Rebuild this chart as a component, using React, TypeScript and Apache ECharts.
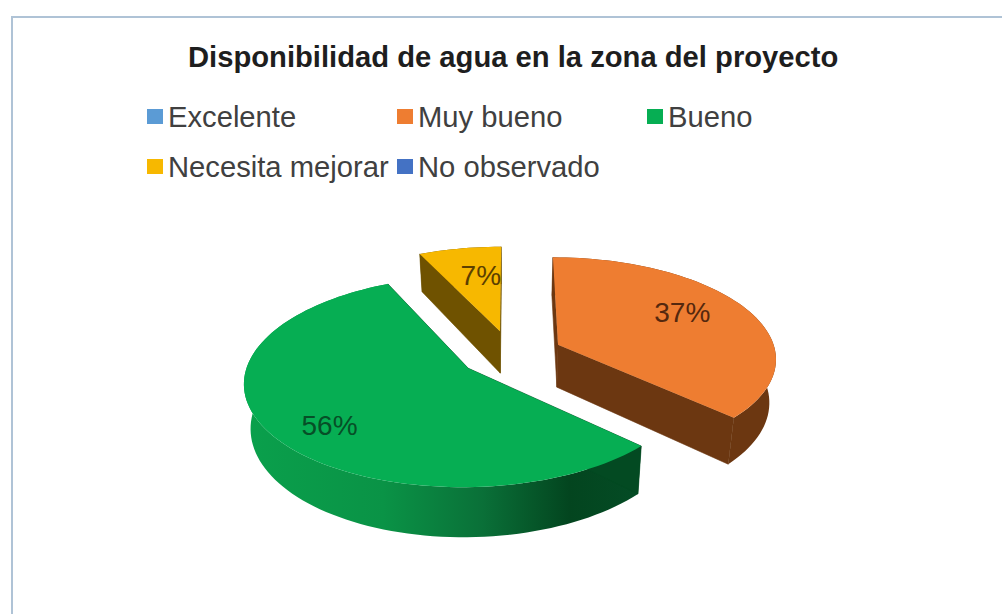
import React, { useEffect, useRef } from "react";
import * as echarts from "echarts";

const chartTitle = "Disponibilidad de agua en la zona del proyecto";
const categories = ["Excelente", "Muy bueno", "Bueno", "Necesita mejorar", "No observado"];
const shares = [0, 37, 56, 7, 0];

const topColors = ["#5B9BD5", "#EE7D31", "#06AE53", "#F7B800", "#4472C4"];
const labelColors = ["#404040", "#55280E", "#064F27", "#5C3F00", "#404040"];

// Legend rows: the first row has three entries, the second two.
const legendSlots = [
  { left: 147, top: 102 },
  { left: 397, top: 102 },
  { left: 647, top: 102 },
  { left: 147, top: 152 },
  { left: 397, top: 152 },
];

// Projection of the tilted pie disc on to the page.
const CX = 511;
const CY = 354;
const RADIUS_X = 218;
const RADIUS_Y = 100.3;
const PERSPECTIVE = 0.124;
const THICKNESS = 43;
const BASE_SHRINK = 0.975;
const EXPLODE = 0.238;
const LABEL_RADIUS = [0.6, 0.7, 0.77, 0.64, 0.6];
const LABEL_TURN = [0, -6, -6, 3.5, 0];

type Pt = [number, number];

function projectTop(x: number, y: number): Pt {
  const s = 1 / (1 - PERSPECTIVE * y);
  return [CX + RADIUS_X * x * s, CY + RADIUS_Y * y * s];
}

function projectBase(x: number, y: number): Pt {
  const s = 1 / (1 - PERSPECTIVE * y);
  const [px, py] = projectTop(x, y);
  return [CX + (px - CX) * BASE_SHRINK, py + THICKNESS * s];
}

const deg = (a: number) => (a * Math.PI) / 180;

function sideFill(index: number) {
  if (index === 2) {
    return new echarts.graphic.LinearGradient(0, 0, 1, 0, [
      { offset: 0, color: "#0AA04C" },
      { offset: 0.35, color: "#0A9346" },
      { offset: 0.6, color: "#0A7038" },
      { offset: 0.82, color: "#03451F" },
      { offset: 1, color: "#044C25" },
    ]);
  }
  return index === 1 ? "#6C3711" : "#6F5200";
}

function renderSlice(params: any, api: any) {
  const index: number = params.seriesIndex;
  const value: number = api.value(0);
  if (!value) return { type: "group", children: [] };

  const total = shares.reduce((a, b) => a + b, 0);
  const before = shares.slice(0, index).reduce((a, b) => a + b, 0);
  const start = (before / total) * 360;
  const end = ((before + value) / total) * 360;
  const mid = (start + end) / 2;

  const ox = EXPLODE * Math.sin(deg(mid));
  const oy = -EXPLODE * Math.cos(deg(mid));

  const rim: Pt[] = [];
  const steps = Math.max(4, Math.round((end - start) / 2));
  for (let k = 0; k <= steps; k++) {
    const a = deg(start + ((end - start) * k) / steps);
    rim.push([ox + Math.sin(a), oy - Math.cos(a)]);
  }
  const hub: Pt = [ox, oy];
  const fill = sideFill(index);
  const cutColor = index === 2 ? "#034A22" : (fill as string);

  // The flat cut faces carry a hairline so they close the seam against the curved wall.
  const face = (a: Pt, b: Pt) => ({
    type: "polygon",
    shape: {
      points: [projectTop(a[0], a[1]), projectTop(b[0], b[1]), projectBase(b[0], b[1]), projectBase(a[0], a[1])],
    },
    style: { fill: cutColor, stroke: cutColor, lineWidth: 0.6 },
  });

  const outerWall = {
    type: "polygon",
    shape: {
      points: [
        ...rim.map((p) => projectTop(p[0], p[1])),
        ...rim.slice().reverse().map((p) => projectBase(p[0], p[1])),
      ],
    },
    style: { fill },
  };

  const top = {
    type: "polygon",
    shape: { points: [projectTop(hub[0], hub[1]), ...rim.map((p) => projectTop(p[0], p[1]))] },
    style: { fill: topColors[index] },
  };

  const la = deg(mid + LABEL_TURN[index]);
  const lr = LABEL_RADIUS[index];
  const [lx, ly] = projectTop(ox + lr * Math.sin(la), oy - lr * Math.cos(la));
  const label = {
    type: "text",
    style: {
      x: lx,
      y: ly,
      text: `${value}%`,
      fill: labelColors[index],
      font: '28px "Liberation Sans", Arial, sans-serif',
      align: "center",
      verticalAlign: "middle",
    },
  };

  return {
    type: "group",
    children: [outerWall, face(hub, rim[0]), face(hub, rim[rim.length - 1]), top, label],
  };
}

export default function App() {
  const ref = useRef<HTMLDivElement>(null);

  useEffect(() => {
    if (!ref.current) return;
    const chart = echarts.init(ref.current, undefined, { renderer: "svg" });
    chart.setOption({
      animation: false,
      backgroundColor: "#ffffff",
      title: {
        text: chartTitle,
        left: 188,
        top: 42,
        padding: 0,
        textStyle: {
          fontFamily: '"Liberation Sans", Arial, sans-serif',
          fontSize: 29.2,
          fontWeight: "bold",
          color: "#1E1E1E",
        },
      },
      legend: categories.map((name, i) => ({
        data: [name],
        left: legendSlots[i].left,
        top: legendSlots[i].top,
        padding: 0,
        icon: "rect",
        itemWidth: 16,
        itemHeight: 15,
        selectedMode: false,
        textStyle: {
          fontFamily: '"Liberation Sans", Arial, sans-serif',
          fontSize: 29.2,
          color: "#404040",
        },
      })),
      graphic: [
        {
          type: "polyline",
          silent: true,
          shape: { points: [[12, 614], [12, 17], [1002, 17]] },
          style: { stroke: "#AFC3D6", lineWidth: 2, fill: "none" },
        },
      ],
      series: categories.map((name, i) => ({
        type: "custom",
        name,
        coordinateSystem: "none",
        silent: true,
        itemStyle: { color: topColors[i] },
        data: [[shares[i]]],
        renderItem: renderSlice,
      })),
    });
    return () => chart.dispose();
  }, []);

  return <div ref={ref} style={{ position: "fixed", left: 0, top: 0, width: 1002, height: 614 }} />;
}
